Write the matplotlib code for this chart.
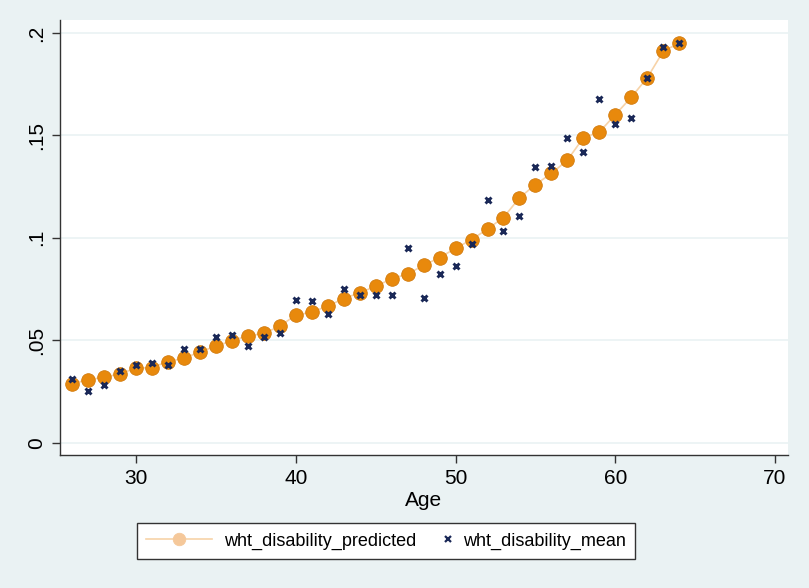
import matplotlib.pyplot as plt
import numpy as np
from matplotlib.legend_handler import HandlerLine2D

plt.rcParams['font.family'] = ['Liberation Sans', 'DejaVu Sans']

age = np.arange(26, 65)

predicted = np.array([
    0.0287, 0.0308, 0.0319, 0.0337, 0.0363, 0.0367, 0.0396, 0.0412, 0.0443, 0.0471,
    0.0497, 0.0522, 0.0533, 0.0569, 0.0623, 0.0637, 0.0667, 0.0703, 0.0732, 0.0763,
    0.0800, 0.0823, 0.0866, 0.0903, 0.0949, 0.0991, 0.1043, 0.1099, 0.1195, 0.1260,
    0.1314, 0.1379, 0.1488, 0.1516, 0.1601, 0.1686, 0.1781, 0.1910, 0.1951,
])

mean = np.array([
    0.0311, 0.0251, 0.0280, 0.0349, 0.0378, 0.0391, 0.0381, 0.0455, 0.0455, 0.0515,
    0.0527, 0.0473, 0.0517, 0.0535, 0.0696, 0.0690, 0.0627, 0.0748, 0.0722, 0.0722,
    0.0722, 0.0949, 0.0704, 0.0825, 0.0864, 0.0968, 0.1183, 0.1035, 0.1105, 0.1348,
    0.1351, 0.1488, 0.1421, 0.1679, 0.1554, 0.1586, 0.1781, 0.1930, 0.1953,
])

xticks = [30, 40, 50, 60, 70]
yticks = [0, 0.05, 0.1, 0.15, 0.2]
ylabels = ['0', '.05', '.1', '.15', '.2']


# legend key for the scatter: one marker at the right end of the key
class RightMarker(HandlerLine2D):
    def get_xdata(self, legend, xdescent, ydescent, width, height, fontsize):
        x = -xdescent + width * 0.95
        return np.array([x]), [x]


bg = '#eaf2f3'
fig = plt.figure(figsize=(8.09, 5.88), dpi=100, facecolor=bg)
ax = fig.add_axes([60 / 809, 1 - 455 / 588, 728 / 809, 435 / 588])
ax.set_facecolor('white')

l1, = ax.plot(age, predicted, color='#f7d3a8', lw=1.2, marker='o', ms=9.8,
              mfc='#e8890c', mec='#d27a0c', mew=0.6, label='wht_disability_predicted', zorder=3)
l2, = ax.plot(age, mean, ls='none', marker='x', ms=4.8, mew=2.1, color='#1a2857',
              label='wht_disability_mean', zorder=4)

ax.set_xlim(25.24, 70.81)
ax.set_ylim(-0.006, 0.2063)
ax.set_xticks(xticks)
ax.set_yticks(yticks)
ax.set_yticklabels(ylabels, rotation=90, va='center')
ax.grid(axis='y', color='#eaf2f3', lw=1.2)
ax.set_axisbelow(True)

for s in ['top', 'right']:
    ax.spines[s].set_visible(False)
for s in ['left', 'bottom']:
    ax.spines[s].set_color('#333333')
    ax.spines[s].set_linewidth(1.0)
ax.tick_params(labelsize=15, length=6, width=1.0, color='#333333', pad=4)

ax.set_xlabel('Age', fontsize=15, labelpad=2)

leg = fig.legend([l1, l2], [l1.get_label(), l2.get_label()], loc='center',
                 bbox_to_anchor=(386 / 809, 1 - 541 / 588),
                 ncol=2, fontsize=13, frameon=True, fancybox=False, edgecolor='#333333',
                 framealpha=1, borderpad=0.5, columnspacing=-1.68, handlelength=3.65,
                 handletextpad=0.63, numpoints=1,
                 handler_map={l2: RightMarker(numpoints=2)})
leg.get_frame().set_linewidth(1.0)
# faded legend keys as in the original
lh = leg.legend_handles
lh[0].set_markerfacecolor('#f5c89a')
lh[0].set_markeredgecolor('#f5c89a')
lh[0].set_markersize(9)
lh[1].set_markersize(4)
lh[1].set_markeredgewidth(1.6)

fig.savefig('out.png', dpi=100, facecolor=bg)
